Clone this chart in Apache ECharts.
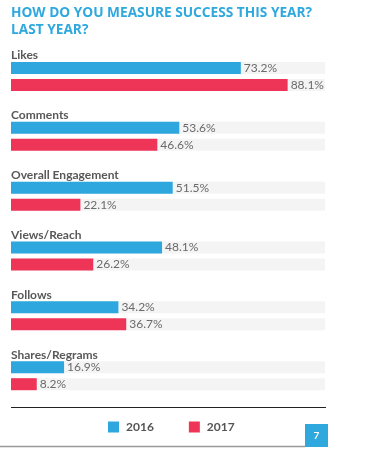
<!DOCTYPE html>
<html>
<head>
<meta charset="utf-8">
<script src="https://cdn.jsdelivr.net/npm/echarts@6/dist/echarts.min.js"></script>
<style>
html,body{margin:0;padding:0;background:#fff;}
#c{width:368px;height:451px;}
</style>
</head>
<body>
<div id="c"></div>
<script>
var categories = ['Likes', 'Comments', 'Overall Engagement', 'Views/Reach', 'Follows', 'Shares/Regrams'];
var values2016 = [73.2, 53.6, 51.5, 48.1, 34.2, 16.9];
var values2017 = [88.1, 46.6, 22.1, 26.2, 36.7, 8.2];
var seriesNames = ['2016', '2017'];
var titleText = 'HOW DO YOU MEASURE SUCCESS THIS YEAR?\nLAST YEAR?';
var pageNumber = '7';

var BLUE = '#2ea7de';
var RED = '#ee3557';
var chart = echarts.init(document.getElementById('c'), null, {renderer: 'canvas'});

function valueLabel() {
  return {
    show: true, position: 'right', distance: 3,
    color: '#6a6a6a', fontSize: 12, fontFamily: 'Lato', fontWeight: 'normal',
    formatter: function (p) { return p.value.toFixed(1) + '%'; }
  };
}

chart.setOption({
  animation: false,
  backgroundColor: '#fff',
  title: {
    text: titleText, left: 6, top: 0,
    textStyle: {color: '#2fa8de', fontSize: 13.7, fontWeight: 'bold', fontFamily: 'Open Sans', lineHeight: 17}
  },
  legend: {
    data: seriesNames, bottom: 13, left: 103, icon: 'rect',
    itemWidth: 11, itemHeight: 11, itemGap: 35,
    textStyle: {color: '#555', fontSize: 12, fontWeight: 'bold', fontFamily: 'Lato', padding: [0,0,0,2]}
  },
  grid: {left: 11, right: 43, top: 46.6, bottom: 451 - 405.6, containLabel: false},
  xAxis: {type: 'value', min: 0, max: 100, show: false},
  yAxis: {
    type: 'category', data: categories, inverse: true,
    axisLine: {show: false}, axisTick: {show: false}, splitLine: {show: false},
    axisLabel: {
      inside: true, margin: 0, align: 'left', verticalAlign: 'middle',
      formatter: function (v) { return '{n|' + v + '}'; },
      rich: {n: {color: '#585858', fontSize: 12, fontWeight: 'bold', fontFamily: 'Lato', padding: [0, 0, 42, 0]}}
    },
    z: 10
  },
  series: [
    {
      name: seriesNames[0], type: 'bar', data: values2016, barWidth: 12, barGap: '42%',
      itemStyle: {color: BLUE}, showBackground: true,
      backgroundStyle: {color: '#f4f4f4'}, label: valueLabel()
    },
    {
      name: seriesNames[1], type: 'bar', data: values2017, barWidth: 12, barGap: '42%',
      itemStyle: {color: RED}, showBackground: true,
      backgroundStyle: {color: '#f4f4f4'}, label: valueLabel()
    }
  ],
  graphic: [
    {type: 'line', shape: {x1: 11, y1: 407.5, x2: 326, y2: 407.5}, style: {stroke: '#222', lineWidth: 1.2}},
    {type: 'line', shape: {x1: 0, y1: 446.5, x2: 305, y2: 446.5}, style: {stroke: '#999', lineWidth: 1.5}},
    {type: 'rect', shape: {x: 305, y: 424, width: 23, height: 23}, style: {fill: '#2fa8de'}},
    {type: 'text', x: 316.5, y: 435.5, style: {text: pageNumber, fill: '#fff', fontSize: 10, fontWeight: 'bold', fontFamily: 'Lato', align: 'center', verticalAlign: 'middle'}}
  ]
});
</script>
</body>
</html>
